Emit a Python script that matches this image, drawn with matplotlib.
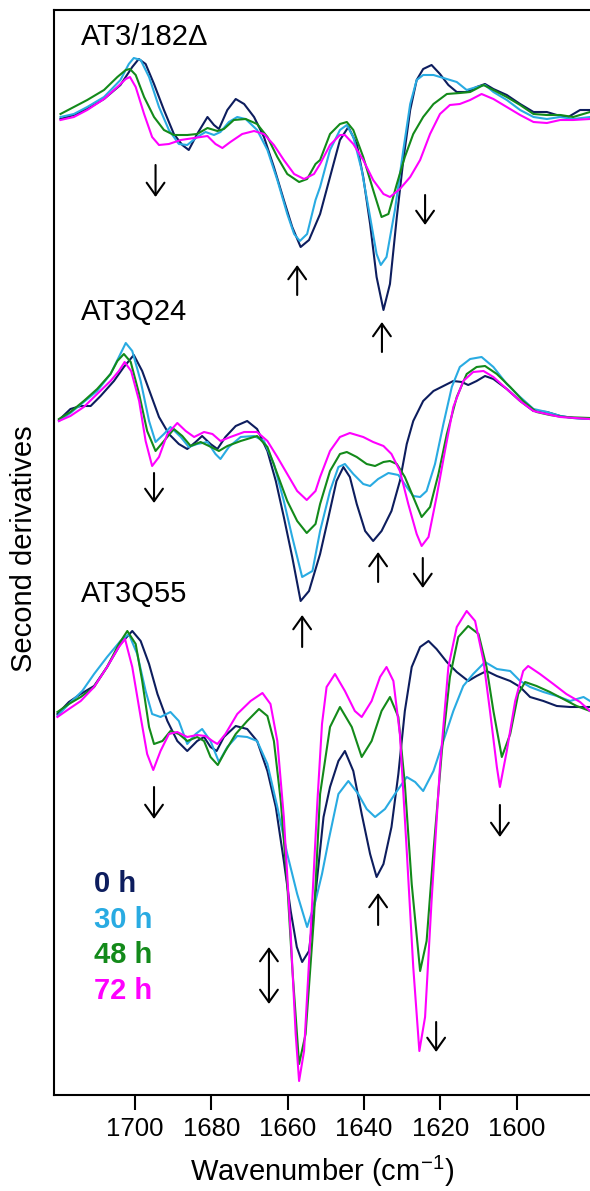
import numpy as np
import matplotlib.pyplot as plt

plt.rcParams['font.family'] = ['Liberation Sans', 'DejaVu Sans']

# incubation times and their colours
times = ['0 h', '30 h', '48 h', '72 h']
colors = ['#0d1d5e', '#29abe2', '#138a1a', '#ff00ff']

panel_names = ['AT3/182\u0394', 'AT3Q24', 'AT3Q55']
offsets = [0.0, -3.03, -5.97]

# second-derivative spectra, (wavenumber, value)
top_0h = [(1719.5, -0.02), (1716.0, 0.02), (1712.5, 0.08), (1708.1, 0.18), (1703.8, 0.32), (1700.7, 0.50),
          (1699.0, 0.58), (1697.2, 0.53), (1695.0, 0.33), (1692.4, 0.07), (1689.8, -0.17), (1687.6, -0.28),
          (1685.9, -0.33), (1683.7, -0.17), (1681.0, 0.00), (1679.3, -0.08), (1678.0, -0.12), (1675.8, 0.07),
          (1673.6, 0.18), (1671.4, 0.13), (1668.8, 0.00), (1666.2, -0.20), (1663.6, -0.50), (1661.0, -0.83),
          (1658.8, -1.10), (1656.6, -1.30), (1654.4, -1.23), (1651.5, -0.97), (1648.9, -0.60), (1646.3, -0.23),
          (1644.1, -0.10), (1641.9, -0.27), (1640.2, -0.60), (1638.4, -1.07), (1636.7, -1.60), (1634.9, -1.93),
          (1633.2, -1.67), (1631.4, -1.00), (1629.7, -0.43), (1627.9, 0.07), (1626.2, 0.37), (1624.5, 0.48),
          (1622.3, 0.52), (1620.1, 0.43), (1617.9, 0.32), (1615.7, 0.25), (1613.1, 0.25), (1610.5, 0.30),
          (1608.3, 0.33), (1606.1, 0.28), (1602.6, 0.22), (1599.1, 0.13), (1595.6, 0.05), (1592.1, 0.05),
          (1589.5, 0.02), (1586.5, 0.00), (1583.4, 0.07), (1580.8, 0.07)]
top_30h = [(1719.5, 0.00), (1716.0, 0.03), (1712.5, 0.10), (1708.1, 0.20), (1703.8, 0.37), (1701.6, 0.53),
           (1700.3, 0.59), (1698.5, 0.57), (1696.3, 0.40), (1693.7, 0.10), (1691.1, -0.13), (1688.5, -0.27),
           (1686.3, -0.28), (1683.7, -0.20), (1681.5, -0.15), (1679.3, -0.18), (1677.6, -0.15), (1675.4, -0.05),
           (1673.2, 0.00), (1671.0, -0.02), (1668.0, -0.13), (1665.3, -0.33), (1662.7, -0.63), (1660.1, -0.97),
           (1658.3, -1.17), (1656.8, -1.24), (1654.9, -1.17), (1652.7, -0.83), (1651.5, -0.70), (1648.9, -0.33),
           (1646.3, -0.13), (1644.5, -0.08), (1642.8, -0.20), (1640.6, -0.53), (1638.4, -1.00), (1636.7, -1.37),
           (1635.6, -1.48), (1634.1, -1.40), (1631.9, -0.93), (1629.7, -0.33), (1627.9, 0.13), (1626.2, 0.37),
           (1624.5, 0.42), (1621.8, 0.42), (1618.3, 0.38), (1615.7, 0.35), (1613.1, 0.27), (1610.5, 0.30),
           (1608.3, 0.32), (1606.1, 0.25), (1602.6, 0.17), (1599.1, 0.07), (1595.6, 0.00), (1592.1, -0.02),
           (1588.6, 0.00), (1585.2, -0.02), (1580.8, 0.00)]
top_48h = [(1719.5, 0.03), (1716.0, 0.10), (1712.5, 0.17), (1708.1, 0.27), (1704.6, 0.40), (1702.4, 0.47),
           (1701.3, 0.48), (1699.8, 0.42), (1697.6, 0.20), (1695.0, 0.00), (1692.4, -0.13), (1689.8, -0.18),
           (1686.3, -0.18), (1683.7, -0.17), (1681.0, -0.11), (1678.4, -0.14), (1676.7, -0.12), (1674.1, -0.03),
           (1671.0, -0.02), (1668.0, -0.07), (1665.3, -0.20), (1662.7, -0.40), (1660.1, -0.57), (1657.0, -0.65),
           (1654.9, -0.62), (1652.7, -0.47), (1651.5, -0.43), (1648.9, -0.17), (1646.3, -0.07), (1644.5, -0.05),
           (1642.8, -0.13), (1640.2, -0.40), (1637.6, -0.73), (1635.4, -1.00), (1633.6, -0.97), (1631.4, -0.67),
           (1629.3, -0.40), (1627.1, -0.17), (1624.5, 0.00), (1621.8, 0.13), (1618.3, 0.23), (1614.9, 0.24),
           (1612.2, 0.25), (1608.7, 0.32), (1606.1, 0.27), (1602.6, 0.20), (1599.1, 0.12), (1595.6, 0.03),
           (1592.1, 0.02), (1588.6, 0.02), (1585.2, 0.00), (1580.8, 0.05)]
top_72h = [(1719.5, -0.03), (1716.0, 0.00), (1712.5, 0.07), (1708.1, 0.18), (1704.6, 0.30), (1702.4, 0.38),
           (1701.3, 0.40), (1699.8, 0.30), (1697.6, 0.03), (1695.5, -0.20), (1693.7, -0.28), (1691.1, -0.27),
           (1688.0, -0.23), (1684.5, -0.21), (1681.0, -0.19), (1678.9, -0.27), (1677.1, -0.31), (1675.0, -0.25),
           (1671.9, -0.17), (1668.8, -0.14), (1666.2, -0.17), (1663.6, -0.28), (1661.0, -0.43), (1658.3, -0.57),
           (1655.7, -0.62), (1653.1, -0.57), (1651.5, -0.47), (1648.9, -0.28), (1646.3, -0.18), (1645.0, -0.18),
           (1642.8, -0.27), (1640.2, -0.43), (1637.6, -0.63), (1634.9, -0.77), (1633.2, -0.80), (1630.6, -0.72),
           (1627.9, -0.60), (1625.3, -0.43), (1622.7, -0.17), (1620.1, 0.03), (1617.5, 0.12), (1614.9, 0.13),
           (1612.2, 0.17), (1609.2, 0.23), (1606.1, 0.18), (1602.6, 0.10), (1599.1, 0.02), (1595.6, -0.05),
           (1592.1, -0.06), (1588.6, -0.03), (1585.2, -0.03), (1580.8, -0.02)]

mid_0h = [(1719.9, 0.00), (1716.9, 0.11), (1714.2, 0.14), (1711.6, 0.14), (1709.0, 0.24), (1705.5, 0.39),
          (1702.9, 0.53), (1700.3, 0.65), (1698.1, 0.49), (1695.9, 0.26), (1693.7, 0.03), (1691.1, -0.14),
          (1688.5, -0.24), (1686.3, -0.29), (1684.1, -0.22), (1682.4, -0.16), (1680.2, -0.24), (1678.4, -0.29),
          (1676.3, -0.17), (1673.6, -0.06), (1670.6, -0.01), (1668.0, -0.09), (1665.3, -0.31), (1663.1, -0.61),
          (1661.0, -0.97), (1658.8, -1.37), (1656.6, -1.81), (1654.4, -1.71), (1651.5, -1.34), (1649.3, -0.97),
          (1647.2, -0.61), (1645.4, -0.47), (1643.7, -0.57), (1641.9, -0.84), (1639.7, -1.11), (1637.6, -1.21),
          (1635.4, -1.11), (1632.8, -0.91), (1630.6, -0.61), (1628.8, -0.24), (1627.1, -0.01), (1624.5, 0.19),
          (1621.8, 0.29), (1619.2, 0.34), (1616.6, 0.39), (1614.4, 0.38), (1612.7, 0.35), (1610.5, 0.39),
          (1608.3, 0.44), (1606.1, 0.41), (1602.6, 0.31), (1599.1, 0.19), (1595.6, 0.09), (1592.1, 0.08),
          (1588.6, 0.04), (1585.2, 0.02), (1580.8, 0.01)]
mid_30h = [(1719.9, -0.01), (1716.9, 0.07), (1713.4, 0.18), (1709.9, 0.29), (1706.4, 0.46), (1704.2, 0.63),
           (1702.4, 0.77), (1700.7, 0.69), (1698.5, 0.39), (1696.3, -0.01), (1694.6, -0.22), (1692.4, -0.14),
           (1690.7, -0.07), (1688.0, -0.17), (1685.9, -0.27), (1683.7, -0.24), (1681.0, -0.22), (1678.9, -0.34),
           (1677.6, -0.39), (1675.4, -0.27), (1672.3, -0.17), (1668.8, -0.16), (1666.2, -0.21), (1663.6, -0.44),
           (1661.0, -0.81), (1658.8, -1.17), (1656.2, -1.57), (1653.5, -1.51), (1651.5, -1.11), (1648.9, -0.71),
           (1646.7, -0.47), (1645.0, -0.44), (1642.8, -0.54), (1640.2, -0.64), (1638.4, -0.66), (1636.3, -0.59),
           (1633.6, -0.53), (1631.0, -0.55), (1628.8, -0.67), (1627.1, -0.76), (1625.3, -0.77), (1623.6, -0.71),
           (1621.4, -0.44), (1619.2, -0.04), (1617.0, 0.33), (1614.9, 0.53), (1612.2, 0.61), (1609.2, 0.63),
           (1606.1, 0.53), (1602.6, 0.36), (1599.1, 0.23), (1595.6, 0.11), (1592.1, 0.08), (1588.6, 0.04),
           (1585.2, 0.02), (1580.8, 0.01)]
mid_48h = [(1719.9, 0.01), (1716.9, 0.08), (1713.4, 0.19), (1709.9, 0.31), (1706.4, 0.46), (1704.6, 0.59),
           (1702.9, 0.66), (1701.1, 0.58), (1698.9, 0.26), (1696.8, -0.11), (1694.6, -0.31), (1692.4, -0.21),
           (1689.8, -0.09), (1687.6, -0.16), (1685.4, -0.26), (1682.8, -0.22), (1680.6, -0.26), (1678.0, -0.31),
           (1675.8, -0.26), (1672.3, -0.21), (1668.0, -0.16), (1665.3, -0.27), (1662.7, -0.54), (1660.1, -0.81),
           (1657.5, -1.01), (1655.0, -1.13), (1652.7, -1.04), (1651.5, -0.84), (1648.9, -0.51), (1646.3, -0.34),
           (1644.5, -0.32), (1641.9, -0.37), (1639.3, -0.44), (1637.1, -0.46), (1634.9, -0.42), (1633.2, -0.41),
           (1631.4, -0.44), (1629.3, -0.57), (1627.1, -0.77), (1624.9, -0.97), (1622.7, -0.87), (1620.5, -0.54),
           (1618.3, -0.14), (1615.7, 0.23), (1613.1, 0.46), (1610.5, 0.53), (1608.3, 0.54), (1605.2, 0.46),
           (1601.7, 0.33), (1598.3, 0.19), (1594.8, 0.08), (1591.3, 0.05), (1587.8, 0.03), (1580.8, 0.02)]
mid_72h = [(1719.9, -0.01), (1716.9, 0.04), (1713.4, 0.13), (1709.9, 0.26), (1706.4, 0.39), (1704.2, 0.49),
           (1702.7, 0.58), (1701.0, 0.49), (1698.9, 0.19), (1697.2, -0.21), (1695.5, -0.46), (1693.7, -0.37),
           (1691.5, -0.14), (1688.9, -0.03), (1686.7, -0.11), (1684.5, -0.17), (1681.9, -0.12), (1679.7, -0.14),
           (1677.6, -0.21), (1675.0, -0.17), (1671.4, -0.12), (1668.0, -0.12), (1665.3, -0.21), (1662.7, -0.37),
           (1660.1, -0.54), (1657.5, -0.71), (1655.0, -0.80), (1652.7, -0.71), (1651.5, -0.57), (1648.9, -0.31),
           (1646.3, -0.17), (1643.7, -0.13), (1640.2, -0.17), (1637.6, -0.22), (1634.9, -0.26), (1632.8, -0.34),
           (1630.6, -0.51), (1628.4, -0.84), (1626.2, -1.14), (1624.9, -1.26), (1623.1, -1.17), (1621.0, -0.77),
           (1618.8, -0.31), (1616.6, 0.13), (1614.0, 0.39), (1611.4, 0.48), (1608.7, 0.49), (1606.1, 0.43),
           (1602.6, 0.31), (1599.1, 0.19), (1595.6, 0.09), (1592.1, 0.06), (1588.6, 0.03), (1580.8, 0.01)]

bot_0h = [(1720.3, 0.00), (1717.3, 0.12), (1714.2, 0.20), (1710.7, 0.28), (1707.3, 0.47), (1703.8, 0.70),
          (1700.7, 0.83), (1698.5, 0.73), (1696.3, 0.50), (1694.1, 0.20), (1691.5, -0.07), (1688.9, -0.27),
          (1686.3, -0.37), (1683.7, -0.27), (1681.9, -0.23), (1680.2, -0.33), (1678.6, -0.37), (1676.7, -0.23),
          (1673.6, -0.12), (1670.6, -0.15), (1668.0, -0.27), (1665.3, -0.57), (1663.1, -0.93), (1661.0, -1.47),
          (1659.2, -1.97), (1657.6, -2.33), (1656.2, -2.48), (1654.4, -2.37), (1652.7, -1.80), (1650.6, -1.03),
          (1648.9, -0.73), (1646.7, -0.47), (1645.0, -0.37), (1642.8, -0.57), (1640.6, -1.00), (1638.4, -1.40),
          (1636.7, -1.63), (1634.9, -1.50), (1632.8, -1.13), (1631.0, -0.60), (1629.3, 0.03), (1627.5, 0.47),
          (1625.3, 0.67), (1623.1, 0.73), (1621.0, 0.65), (1618.3, 0.52), (1615.7, 0.42), (1612.7, 0.33),
          (1610.5, 0.38), (1607.9, 0.43), (1605.2, 0.38), (1601.7, 0.33), (1599.1, 0.27), (1596.5, 0.17),
          (1593.0, 0.13), (1589.5, 0.08), (1586.0, 0.07), (1580.8, 0.07)]
bot_30h = [(1720.3, -0.02), (1717.3, 0.10), (1713.8, 0.23), (1710.7, 0.40), (1707.3, 0.57), (1703.8, 0.73),
           (1701.6, 0.80), (1699.4, 0.60), (1697.2, 0.23), (1695.5, 0.00), (1693.3, -0.03), (1690.7, 0.02),
           (1688.5, -0.07), (1686.3, -0.30), (1684.1, -0.20), (1682.4, -0.15), (1680.2, -0.27), (1678.0, -0.48),
           (1675.8, -0.33), (1673.2, -0.22), (1670.6, -0.23), (1668.0, -0.27), (1665.3, -0.50), (1662.7, -0.93),
           (1660.1, -1.40), (1657.5, -1.80), (1654.9, -2.13), (1652.7, -1.87), (1651.0, -1.60), (1649.3, -1.27),
           (1646.7, -0.80), (1644.1, -0.67), (1641.5, -0.80), (1639.3, -0.95), (1637.1, -1.03), (1634.5, -0.95),
           (1631.9, -0.80), (1628.8, -0.63), (1626.6, -0.68), (1624.5, -0.77), (1621.8, -0.57), (1619.2, -0.27),
           (1616.6, 0.03), (1614.0, 0.28), (1611.4, 0.40), (1608.3, 0.52), (1605.2, 0.45), (1601.7, 0.43),
           (1599.1, 0.33), (1596.5, 0.27), (1593.0, 0.22), (1589.5, 0.18), (1586.0, 0.13), (1582.5, 0.17),
           (1580.8, 0.13)]
bot_48h = [(1720.3, 0.02), (1717.3, 0.10), (1714.2, 0.17), (1710.7, 0.27), (1707.3, 0.47), (1704.2, 0.70),
           (1702.0, 0.83), (1699.8, 0.70), (1698.1, 0.33), (1696.3, -0.13), (1695.0, -0.30), (1692.8, -0.27),
           (1690.7, -0.17), (1688.5, -0.20), (1686.3, -0.27), (1683.7, -0.23), (1681.9, -0.27), (1680.2, -0.43),
           (1678.3, -0.51), (1676.3, -0.37), (1673.6, -0.20), (1670.6, -0.07), (1667.5, 0.05), (1665.3, -0.02),
           (1663.6, -0.27), (1661.8, -0.87), (1660.1, -1.70), (1658.8, -2.53), (1657.0, -3.50), (1655.3, -3.20),
           (1653.1, -2.03), (1651.5, -0.80), (1648.9, -0.13), (1646.3, 0.07), (1643.2, -0.13), (1640.6, -0.43),
           (1638.0, -0.27), (1635.4, 0.03), (1633.2, 0.17), (1631.0, -0.03), (1629.3, -0.70), (1627.5, -1.70),
           (1625.3, -2.57), (1623.6, -2.27), (1621.8, -1.37), (1619.6, -0.37), (1617.5, 0.37), (1615.3, 0.77),
           (1612.7, 0.88), (1610.0, 0.80), (1607.9, 0.47), (1606.1, 0.03), (1603.9, -0.43), (1601.7, -0.20),
           (1599.6, 0.20), (1597.8, 0.32), (1594.8, 0.28), (1591.3, 0.22), (1587.8, 0.15), (1584.3, 0.08),
           (1580.8, 0.03)]
bot_72h = [(1720.3, -0.03), (1717.3, 0.05), (1714.2, 0.13), (1710.7, 0.27), (1707.3, 0.47), (1704.2, 0.67),
           (1702.6, 0.75), (1700.7, 0.47), (1698.5, -0.03), (1696.8, -0.40), (1695.2, -0.56), (1693.3, -0.37),
           (1691.1, -0.20), (1688.9, -0.18), (1686.3, -0.23), (1683.7, -0.21), (1681.5, -0.22), (1679.7, -0.27),
           (1678.4, -0.30), (1676.3, -0.20), (1673.2, 0.00), (1669.7, 0.13), (1666.6, 0.21), (1664.5, 0.10),
           (1662.7, -0.27), (1661.0, -1.03), (1659.2, -2.20), (1657.9, -3.20), (1657.0, -3.67), (1655.7, -3.37),
           (1654.0, -2.20), (1652.2, -0.87), (1651.0, -0.10), (1649.8, 0.27), (1647.6, 0.40), (1645.0, 0.23),
           (1642.4, 0.03), (1640.6, -0.03), (1638.0, 0.13), (1635.8, 0.37), (1634.1, 0.47), (1632.3, 0.33),
           (1630.6, -0.20), (1628.8, -1.37), (1627.1, -2.53), (1625.5, -3.37), (1624.0, -3.03), (1622.3, -1.87),
           (1620.1, -0.53), (1617.9, 0.47), (1615.7, 0.87), (1613.1, 1.03), (1610.9, 0.93), (1608.7, 0.53),
           (1607.0, 0.03), (1605.2, -0.53), (1604.4, -0.73), (1602.6, -0.37), (1600.4, 0.13), (1598.3, 0.43),
           (1597.0, 0.48), (1593.9, 0.40), (1590.4, 0.30), (1587.0, 0.20), (1583.4, 0.12), (1580.8, 0.03)]

spectra = [[top_0h, top_30h, top_48h, top_72h],
           [mid_0h, mid_30h, mid_48h, mid_72h],
           [bot_0h, bot_30h, bot_48h, bot_72h]]

fig = plt.figure(figsize=(5.9, 11.91), dpi=100)
ax = fig.add_axes([54 / 590, 96 / 1191, 536 / 590, 1085 / 1191])

for off, group in zip(offsets, spectra):
    for pts, c in zip(group, colors):
        wn, val = np.array(pts).T
        ax.plot(wn, val + off, color=c, lw=1.5, solid_joinstyle='round')

ax.set_xlim(1721.2, 1580.8)
ax.set_ylim(-9.78, 1.07)
ax.set_xticks([1700, 1680, 1660, 1640, 1620, 1600])
ax.set_yticks([])
ax.tick_params(axis='x', direction='out', length=11, width=1.5, labelsize=18.5, pad=5)
for side in ['left', 'bottom', 'top']:
    ax.spines[side].set_linewidth(1.5)
ax.spines['right'].set_visible(False)

ax.set_xlabel('Wavenumber (cm$^{\\mathregular{-1}}$)', fontsize=21, labelpad=9)
fig.text(0.041, 0.539, 'Second derivatives', rotation=90, fontsize=21, ha='center', va='center')

# panel names
label_y = [0.72, -2.03, -4.85]
for name, y in zip(panel_names, label_y):
    ax.text(1714.1, y, name, fontsize=21, va='baseline', ha='left')

# time legend
legend_y = [-7.75, -8.11, -8.46, -8.82]
for t, c, y in zip(times, colors, legend_y):
    ax.text(1710.7, y, t, color=c, fontsize=21, fontweight='bold', va='baseline', ha='left')

# band-change arrows: (wavenumber, tail, head)
arrows = [(1694.6, -0.48, -0.80), (1657.5, -1.78, -1.48), (1624.0, -0.78, -1.08), (1635.3, -2.35, -2.05),
          (1695.0, -3.56, -3.86), (1636.3, -4.65, -4.35), (1624.6, -4.41, -4.71), (1656.2, -5.30, -4.98),
          (1695.0, -6.70, -7.02), (1636.3, -8.08, -7.76), (1604.4, -6.88, -7.20), (1621.1, -9.05, -9.35)]
for x, y0, y1 in arrows:
    ax.annotate('', xy=(x, y1), xytext=(x, y0),
                arrowprops=dict(arrowstyle='->, head_length=0.45, head_width=0.32', lw=1.5,
                                color='black', mutation_scale=20, shrinkA=0, shrinkB=0))
ax.annotate('', xy=(1664.9, -8.87), xytext=(1664.9, -8.30),
            arrowprops=dict(arrowstyle='<->, head_length=0.45, head_width=0.32', lw=1.5,
                            color='black', mutation_scale=20, shrinkA=0, shrinkB=0))

fig.savefig('out.png', dpi=100)
